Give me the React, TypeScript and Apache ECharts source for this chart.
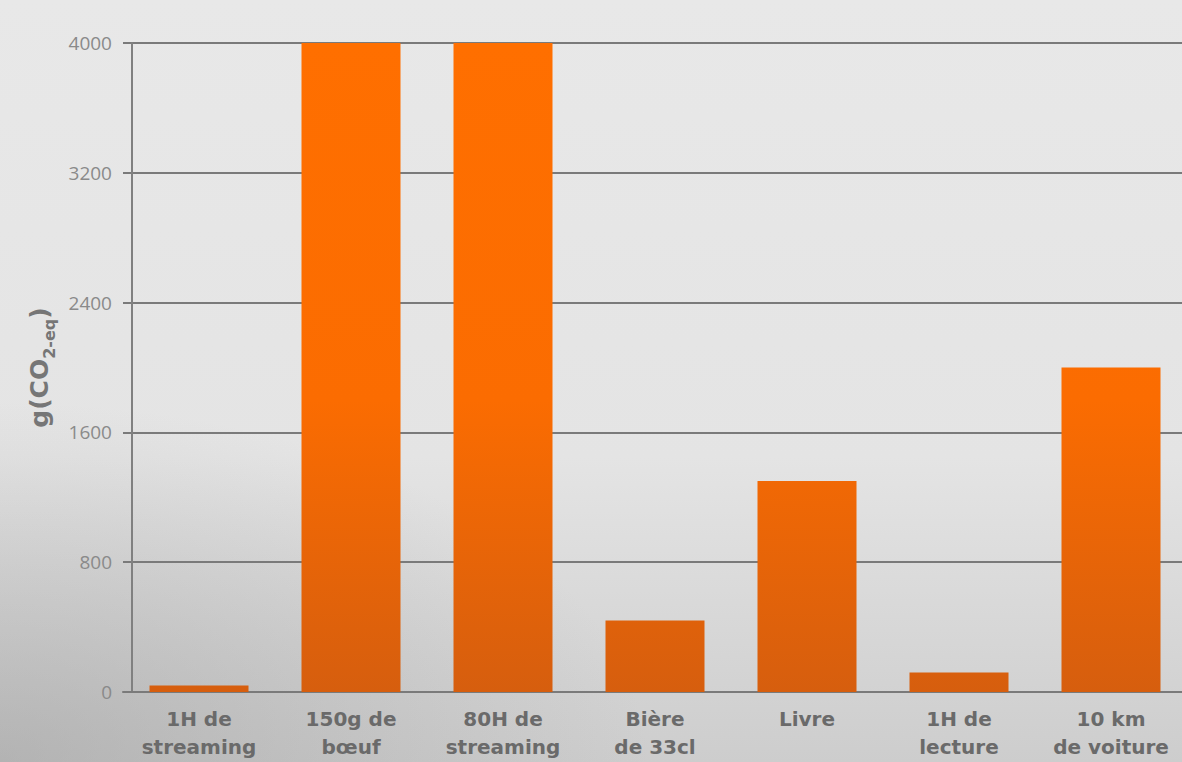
import React, { useEffect, useRef } from "react";
import * as echarts from "echarts";

const categories = [
  "1H de\nstreaming",
  "150g de\nbœuf",
  "80H de\nstreaming",
  "Bière\nde 33cl",
  "Livre",
  "1H de\nlecture",
  "10 km\nde voiture",
];
const values = [40, 4000, 4000, 440, 1300, 120, 2000];
const yMin = 0;
const yMax = 4000;
const yInterval = 800;

export default function App() {
  const ref = useRef<HTMLDivElement>(null);
  useEffect(() => {
    document.body.style.margin = "0";
    const chart = echarts.init(ref.current!, undefined, { renderer: "svg" });
    const barColor = new echarts.graphic.LinearGradient(
      0, 43, 0, 692,
      [
        { offset: 0, color: "#ff6f00" },
        { offset: 0.55, color: "#fb6c01" },
        { offset: 1, color: "#d65e0e" },
      ],
      true
    );
    chart.setOption({
      animation: false,
      backgroundColor: "transparent",
      grid: { left: 123, right: 3, top: 43, bottom: 70, containLabel: false },
      xAxis: {
        type: "category",
        data: categories,
        axisLine: { show: true, lineStyle: { color: "#7a7a7a", width: 2 } },
        axisTick: { show: false },
        axisLabel: {
          interval: 0,
          fontFamily: "DejaVu Sans",
          fontWeight: "bold",
          fontSize: 20,
          lineHeight: 28,
          color: "#6a6a6a",
          margin: 13,
        },
      },
      yAxis: [
        {
          type: "value",
          min: yMin,
          max: yMax,
          interval: yInterval,
          axisLine: { show: false },
          axisTick: { show: false },
          axisLabel: {
            fontFamily: "Open Sans",
            fontSize: 19,
            color: "#8a8a8a",
            margin: 11,
            formatter: (v: number) => String(v),
          },
          splitLine: { show: true, lineStyle: { color: "#7a7a7a", width: 2 } },
          name: "{a|g(CO}{b|2-eq}{a|)}",
          nameLocation: "middle",
          nameGap: 62,
          nameRotate: 90,
          nameTextStyle: {
            rich: {
              a: {
                fontFamily: "DejaVu Sans",
                fontWeight: "bold",
                fontSize: 25,
                color: "#767676",
                verticalAlign: "bottom",
              },
              b: {
                fontFamily: "DejaVu Sans",
                fontWeight: "bold",
                fontSize: 16,
                color: "#767676",
                verticalAlign: "bottom",
                padding: [0, 0, -6, 0],
              },
            },
          },
        },
        {
          type: "value",
          min: yMin,
          max: yMax,
          interval: yInterval,
          position: "left",
          offset: -9,
          axisLine: { show: true, lineStyle: { color: "#808080", width: 2 } },
          axisTick: { show: false },
          axisLabel: { show: false },
          splitLine: { show: false },
        },
      ],
      series: [
        {
          type: "bar",
          data: values,
          barWidth: 99,
          itemStyle: { color: barColor },
          z: 3,
        },
      ],
    });
    return () => chart.dispose();
  }, []);
  return (
    <div
      style={{
        position: "fixed",
        left: 0,
        top: 0,
        width: 1182,
        height: 762,
        overflow: "hidden",
        background:
          "radial-gradient(ellipse 650px 360px at 0% 100%, rgba(140,140,140,0.4) 0%, rgba(140,140,140,0) 100%), linear-gradient(180deg, #e8e8e8 0%, #e4e4e4 60%, #cdcdcd 100%)",
      }}
    >
      <div ref={ref} style={{ width: 1190, height: 762 }} />
    </div>
  );
}
